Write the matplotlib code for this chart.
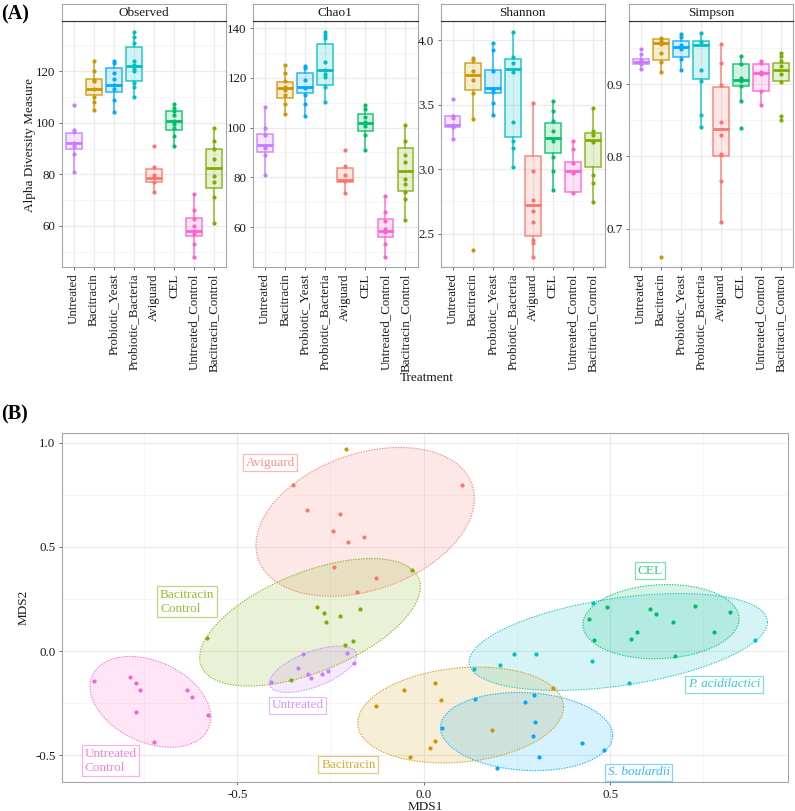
import numpy as np
import matplotlib
matplotlib.use('Agg')
import matplotlib.pyplot as plt

plt.rcParams['font.family'] = ['Liberation Serif', 'DejaVu Serif']

# ---- Panel A data ----
groups = ['Untreated', 'Bacitracin', 'Probiotic_Yeast', 'Probiotic_Bacteria',
          'Aviguard', 'CEL', 'Untreated_Control', 'Bacitracin_Control']
group_colors = ['#C77CFF', '#CD9600', '#00A9FF', '#00BFC4',
                '#F8766D', '#00BE67', '#FF61CC', '#7CAE00']

# box stats per group: (whisker low, q1, median, q3, whisker high)
observed_box = [(80.9, 89.9, 92.0, 95.9, 97.2), (105.0, 110.6, 113.0, 116.8, 124.0),
                (104.0, 112.1, 114.6, 121.3, 124.0), (109.9, 116.1, 122.1, 129.2, 135.0),
                (73.0, 77.2, 78.5, 82.1, 83.0), (90.8, 97.0, 100.8, 104.6, 107.2),
                (48.0, 56.1, 58.2, 63.1, 72.2), (61.2, 74.6, 82.6, 89.8, 98.1)]
observed_pts = [[107.0, 97.2, 96.4, 92.0, 91.0, 88.0, 80.9],
                [124.0, 120.0, 116.5, 116.0, 113.0, 110.1, 108.1, 105.0],
                [124.0, 123.0, 119.1, 116.8, 114.6, 112.9, 109.0, 104.0],
                [135.0, 133.3, 130.7, 124.0, 122.3, 120.9, 120.0, 115.2, 113.9, 109.9],
                [90.8, 83.0, 79.7, 79.1, 77.2, 73.0],
                [107.2, 105.9, 104.6, 103.0, 100.8, 99.7, 97.9, 95.0, 90.8],
                [72.2, 66.2, 62.7, 60.0, 58.2, 56.9, 53.2, 48.0],
                [98.1, 93.0, 89.8, 85.9, 79.2, 76.9, 71.2, 61.2]]

chao1_box = [(81.0, 90.0, 93.0, 97.6, 108.4), (105.5, 111.9, 115.8, 118.4, 125.3),
             (104.5, 114.1, 116.5, 121.9, 124.9), (110.4, 117.3, 123.1, 133.8, 138.4),
             (73.5, 78.3, 79.0, 83.6, 84.7), (91.0, 98.8, 101.7, 105.3, 109.2),
             (47.9, 55.8, 58.5, 63.1, 72.3), (62.9, 74.6, 82.6, 91.6, 101.2)]
chao1_pts = [[108.4, 99.7, 97.0, 92.6, 91.6, 89.0, 81.0],
             [125.3, 121.9, 118.8, 116.5, 115.1, 113.1, 109.4, 105.5],
             [124.9, 123.9, 119.2, 115.9, 113.0, 109.6, 104.5],
             [138.4, 137.2, 136.1, 126.3, 123.2, 121.6, 120.2, 116.2, 110.4],
             [91.0, 84.7, 80.8, 78.7, 73.5],
             [109.2, 107.4, 104.4, 102.4, 100.6, 97.0, 91.0],
             [72.3, 66.1, 62.4, 59.2, 57.8, 53.1, 47.9],
             [101.2, 94.6, 89.1, 86.3, 79.2, 77.3, 74.2, 71.1, 62.9]]

shannon_box = [(3.234, 3.324, 3.342, 3.409, 3.417), (3.391, 3.613, 3.726, 3.825, 3.858),
               (3.422, 3.590, 3.631, 3.765, 3.974), (3.017, 3.252, 3.776, 3.850, 4.059),
               (2.318, 2.480, 2.726, 3.102, 3.510), (2.839, 3.123, 3.242, 3.355, 3.530),
               (2.813, 2.821, 2.986, 3.056, 3.221), (2.744, 3.017, 3.226, 3.278, 3.471)]
shannon_pts = [[3.541, 3.414, 3.396, 3.342, 3.329, 3.234],
               [3.858, 3.845, 3.763, 3.688, 3.592, 3.391, 2.377],
               [3.974, 3.923, 3.763, 3.618, 3.598, 3.510, 3.422],
               [4.059, 3.871, 3.819, 3.755, 3.363, 3.218, 3.167, 3.017],
               [3.510, 2.986, 2.762, 2.679, 2.594, 2.449, 2.431, 2.318],
               [3.530, 3.453, 3.376, 3.293, 3.216, 3.097, 2.989, 2.839],
               [3.221, 3.154, 3.045, 2.973, 2.813],
               [3.471, 3.296, 3.265, 3.213, 2.953, 2.891, 2.744]]

simpson_box = [(0.9207, 0.9286, 0.9313, 0.9350, 0.9424), (0.9170, 0.9341, 0.9572, 0.9631, 0.9645),
               (0.9193, 0.9382, 0.9516, 0.9599, 0.9691), (0.8410, 0.9078, 0.9539, 0.9599, 0.9710),
               (0.7096, 0.8004, 0.8382, 0.8963, 0.9553), (0.8765, 0.8968, 0.9055, 0.9281, 0.9387),
               (0.8714, 0.8903, 0.9157, 0.9281, 0.9327), (0.9028, 0.9050, 0.9193, 0.9299, 0.9429)]
simpson_pts = [[0.9493, 0.9424, 0.9341, 0.9309, 0.9276, 0.9207],
               [0.9645, 0.9599, 0.9553, 0.9429, 0.9313, 0.9170, 0.6612],
               [0.9691, 0.9655, 0.9539, 0.9493, 0.9346, 0.9193],
               [0.9710, 0.9585, 0.9193, 0.9041, 0.8580, 0.8410],
               [0.9553, 0.9295, 0.8986, 0.8479, 0.8295, 0.8027, 0.8013, 0.7663, 0.7096],
               [0.9387, 0.9281, 0.9092, 0.9041, 0.8968, 0.8765, 0.8396],
               [0.9327, 0.9295, 0.9170, 0.9138, 0.8903, 0.8714],
               [0.9429, 0.9392, 0.9327, 0.9253, 0.9134, 0.9028, 0.8557, 0.8511]]

facet_titles = ['Observed', 'Chao1', 'Shannon', 'Simpson']
facet_ylims = [(44.1, 139.3), (43.9, 142.8), (2.242, 4.145), (0.647, 0.987)]
facet_yticks = [[60, 80, 100, 120], [60, 80, 100, 120, 140],
                [2.5, 3.0, 3.5, 4.0], [0.7, 0.8, 0.9]]
facet_ytick_labels = [['60', '80', '100', '120'], ['60', '80', '100', '120', '140'],
                      ['2.5', '3.0', '3.5', '4.0'], ['0.7', '0.8', '0.9']]

# ---- Panel B data (NMDS coordinates) ----
nmds_groups = ['Aviguard', 'Bacitracin', 'Bacitracin_Control', 'CEL',
               'Probiotic_Bacteria', 'Probiotic_Yeast', 'Untreated', 'Untreated_Control']
nmds_colors = ['#F8766D', '#CD9600', '#7CAE00', '#00BE67',
               '#00BFC4', '#00A9FF', '#C77CFF', '#FF61CC']
mds1 = [
    [-0.350, -0.312, -0.225, -0.244, -0.202, -0.159, -0.240, -0.129, -0.180, 0.104],
    [-0.209, -0.129, -0.052, 0.031, 0.046, 0.184, 0.029, 0.018, -0.036, 0.346],
    [-0.286, -0.268, -0.263, -0.225, -0.172, -0.189, -0.211, -0.580, -0.357, -0.031],
    [0.491, 0.443, 0.457, 0.606, 0.623, 0.670, 0.727, 0.822, 0.780, 0.572, 0.556, 0.674],
    [0.454, 0.243, 0.302, 0.206, 0.452, 0.551, 0.889, 0.136],
    [0.138, 0.271, 0.297, 0.299, 0.292, 0.049, 0.425, 0.484, 0.308, 0.196],
    [-0.323, -0.338, -0.309, -0.303, -0.274, -0.256, -0.206, -0.187, -0.410],
    [-0.885, -0.788, -0.773, -0.762, -0.772, -0.723, -0.634, -0.622, -0.578],
]
mds2 = [
    [0.795, 0.679, 0.660, 0.577, 0.524, 0.545, 0.404, 0.351, 0.282, 0.798],
    [0.970, -0.263, -0.189, -0.155, -0.234, -0.378, -0.431, -0.465, -0.510, -0.176],
    [0.213, 0.181, 0.139, 0.168, 0.204, 0.048, 0.027, 0.064, -0.141, 0.391],
    [0.212, 0.152, 0.053, 0.200, 0.179, 0.141, 0.216, 0.189, 0.093, 0.090, 0.058, -0.022],
    [0.232, -0.013, -0.016, -0.067, -0.046, -0.154, 0.054, -0.085],
    [-0.228, -0.247, -0.212, -0.341, -0.409, -0.370, -0.439, -0.474, -0.508, -0.559],
    [-0.016, -0.083, -0.109, -0.131, -0.109, -0.098, -0.008, -0.056, -0.151],
    [-0.146, -0.123, -0.155, -0.189, -0.292, -0.438, -0.189, -0.220, -0.306],
]
# ellipses: centre, half extents along each axis, and tilt (correlation-like)
ell_cx = [-0.157, 0.099, -0.305, 0.6365, 0.522, 0.276, -0.297, -0.733]
ell_cy = [0.620, -0.307, 0.138, 0.141, 0.0435, -0.3865, -0.0875, -0.244]
ell_ax = [0.293, 0.276, 0.296, 0.2095, 0.400, 0.231, 0.117, 0.162]
ell_ay = [0.357, 0.230, 0.306, 0.178, 0.2325, 0.1875, 0.1115, 0.218]
ell_rho = [0.314, 0.165, 0.556, 0.079, 0.41, -0.099, 0.596, -0.335]
group_labels = ['Aviguard', 'Bacitracin', 'Bacitracin\nControl', 'CEL',
                'P. acidilactici', 'S. boulardii', 'Untreated', 'Untreated\nControl']
label_x = [-0.412, -0.202, -0.634, 0.607, 0.806, 0.577, -0.338, -0.840]
label_y = [0.904, -0.545, 0.236, 0.386, -0.160, -0.582, -0.261, -0.526]

W, H = 795, 811
fig = plt.figure(figsize=(W / 100, H / 100), dpi=100)

grid_major = '#EBEBEB'
grid_minor = '#F5F5F5'
frame_col = '#A6A6A6'
txt_col = '#1A1A1A'


def frac(x0, y0, x1, y1):
    return [x0 / W, 1 - y1 / H, (x1 - x0) / W, (y1 - y0) / H]


# ---------------- Panel A ----------------
panel_x = [(61.7, 226.3), (253.0, 417.5), (440.7, 604.7), (628.7, 793.0)]
boxes = [observed_box, chao1_box, shannon_box, simpson_box]
points = [observed_pts, chao1_pts, shannon_pts, simpson_pts]
pos = np.arange(1, len(groups) + 1)

for k in range(4):
    x0, x1 = panel_x[k]
    ax = fig.add_axes(frac(x0, 21.3, x1, 267.0))
    ax.set_xlim(0.4, 8.6)
    ax.set_ylim(*facet_ylims[k])
    yt = facet_yticks[k]
    step = yt[1] - yt[0]
    minors = [yt[0] - step / 2] + [t + step / 2 for t in yt]
    for m in minors:
        ax.axhline(m, color=grid_minor, lw=0.6, zorder=0)
    for t in yt:
        ax.axhline(t, color=grid_major, lw=0.9, zorder=0)
    for p in pos:
        ax.axvline(p, color=grid_major, lw=0.9, zorder=0)

    stats = [dict(whislo=b[0], q1=b[1], med=b[2], q3=b[3], whishi=b[4], fliers=[])
             for b in boxes[k]]
    bp = ax.bxp(stats, positions=pos, widths=0.78, patch_artist=True,
                showfliers=False, showcaps=False, manage_ticks=False)
    for i, c in enumerate(group_colors):
        bp['boxes'][i].set_facecolor(matplotlib.colors.to_rgba(c, 0.18))
        bp['boxes'][i].set_edgecolor(matplotlib.colors.to_rgba(c, 0.85))
        bp['boxes'][i].set_linewidth(1.1)
        bp['medians'][i].set_color(c)
        bp['medians'][i].set_linewidth(2.0)
        for w in bp['whiskers'][2 * i:2 * i + 2]:
            w.set_color(matplotlib.colors.to_rgba(c, 0.85))
            w.set_linewidth(1.1)
        ax.scatter([pos[i]] * len(points[k][i]), points[k][i], s=9, color=c,
                   zorder=4, linewidths=0)

    ax.set_yticks(yt)
    ax.set_yticklabels(facet_ytick_labels[k])
    ax.set_xticks(pos)
    ax.set_xticklabels(groups, rotation=90)
    ax.tick_params(labelsize=9.3, colors=txt_col, length=2.5, width=0.6, pad=2)
    ax.tick_params(axis='both', color='#555555')
    for s in ax.spines.values():
        s.set_color(frame_col)
        s.set_linewidth(0.8)
    ax.spines['top'].set_color('#333333')

    # facet strip
    sx = fig.add_axes(frac(x0, 4.3, x1, 21.3))
    sx.set_xticks([])
    sx.set_yticks([])
    sx.set_facecolor('white')
    for s in sx.spines.values():
        s.set_color(frame_col)
        s.set_linewidth(0.8)
    sx.spines['bottom'].set_color('#333333')
    sx.text(0.5, 0.48, facet_titles[k], ha='center', va='center',
            fontsize=9.5, color=txt_col, transform=sx.transAxes)

fig.text(1 / W, 1 - 14 / H, '(A)', fontsize=14.5, fontweight='bold', va='center', ha='left')
fig.text(30 / W, 1 - 145 / H, 'Alpha Diversity Measure', rotation=90,
         fontsize=9.5, va='center', ha='center', color=txt_col)
fig.text(427 / W, 1 - 378 / H, 'Treatment', fontsize=9.5, va='center', ha='center',
         color=txt_col)

# ---------------- Panel B ----------------
fig.text(1 / W, 1 - 414 / H, '(B)', fontsize=14.5, fontweight='bold', va='center', ha='left')
bx = fig.add_axes(frac(61.7, 433.3, 788.3, 782.3))
bx.set_xlim(-0.971, 0.978)
bx.set_ylim(-0.63, 1.045)
for m in [-0.75, -0.25, 0.25, 0.75]:
    bx.axvline(m, color=grid_minor, lw=0.6, zorder=0)
for m in [-0.25, 0.25, 0.75]:
    bx.axhline(m, color=grid_minor, lw=0.6, zorder=0)
for t in [-0.5, 0.0, 0.5]:
    bx.axvline(t, color=grid_major, lw=0.9, zorder=0)
for t in [-0.5, 0.0, 0.5, 1.0]:
    bx.axhline(t, color=grid_major, lw=0.9, zorder=0)

tt = np.linspace(0, 2 * np.pi, 200)
for i, c in enumerate(nmds_colors):
    phi = np.arccos(ell_rho[i])
    ex = ell_cx[i] + ell_ax[i] * np.cos(tt)
    ey = ell_cy[i] + ell_ay[i] * np.cos(tt - phi)
    bx.fill(ex, ey, color=c, alpha=0.16, lw=0, zorder=1)
    bx.plot(ex, ey, color=c, alpha=0.85, lw=0.8, ls=(0, (1.2, 1.2)), zorder=2)

for i, c in enumerate(nmds_colors):
    bx.scatter(mds1[i], mds2[i], s=9, color=c, zorder=4, linewidths=0)

for i, c in enumerate(nmds_colors):
    style = 'italic' if group_labels[i] in ('P. acidilactici', 'S. boulardii') else 'normal'
    bx.text(label_x[i], label_y[i], group_labels[i], fontsize=9.5, color=c, alpha=0.8,
            ha='center', va='center', style=style, multialignment='left', zorder=5,
            bbox=dict(boxstyle='square,pad=0.2', fc=(1, 1, 1, 0.35),
                      ec=matplotlib.colors.to_rgba(c, 0.5), lw=0.9))

bx.set_xticks([-0.5, 0.0, 0.5])
bx.set_xticklabels(['-0.5', '0.0', '0.5'])
bx.set_yticks([-0.5, 0.0, 0.5, 1.0])
bx.set_yticklabels(['-0.5', '0.0', '0.5', '1.0'])
bx.tick_params(labelsize=9.3, colors=txt_col, length=2.5, width=0.6, pad=2)
bx.tick_params(axis='both', color='#555555')
for s in bx.spines.values():
    s.set_color(frame_col)
    s.set_linewidth(0.8)
bx.set_xlabel('MDS1', fontsize=9.5, color=txt_col, labelpad=0)
bx.set_ylabel('MDS2', fontsize=9.5, color=txt_col, labelpad=4)

fig.savefig('out.png', dpi=100)
